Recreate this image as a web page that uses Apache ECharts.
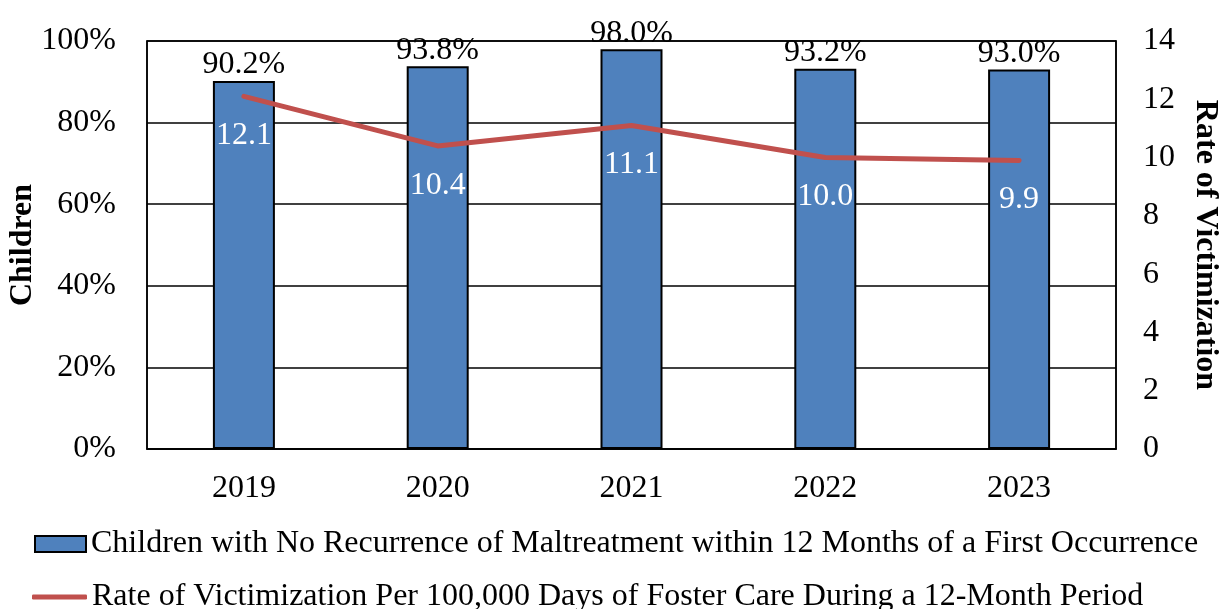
<!DOCTYPE html>
<html>
<head>
<meta charset="utf-8">
<script src="https://cdn.jsdelivr.net/npm/echarts@6/dist/echarts.min.js"></script>
<style>
  html, body { margin: 0; padding: 0; background: #fff; }
  #chart { width: 1220px; height: 609px; }
</style>
</head>
<body>
<div id="chart"></div>
<script>
// Report years on the category axis
const years = ['2019', '2020', '2021', '2022', '2023'];
// Share of children with no recurrence of maltreatment (percent)
const noRecurrencePct = [90.2, 93.8, 98.0, 93.2, 93.0];
// Victimization rate per 100,000 days in foster care
const victimizationRate = [12.1, 10.4, 11.1, 10.0, 9.9];
// Left axis ticks (percent) and right axis ticks (rate)
const pctTicks = [0, 20, 40, 60, 80, 100];
const rateTicks = [0, 2, 4, 6, 8, 10, 12, 14];

const barName = 'Children with No Recurrence of Maltreatment within 12 Months of a First Occurrence';
const lineName = 'Rate of Victimization Per 100,000 Days of Foster Care During a 12-Month Period';

const FONT = "'Liberation Serif', 'Times New Roman', serif";
const FS = 32;
const RED = '#C0504D';
const chart = echarts.init(document.getElementById('chart'), null, { renderer: 'canvas' });

chart.setOption({
  animation: false,
  backgroundColor: '#ffffff',
  textStyle: { fontFamily: FONT, color: '#000' },
  grid: {
    left: 147, right: 104, top: 41, bottom: 160,
    show: true, borderColor: '#000', borderWidth: 1.5,
    containLabel: false, outerBoundsMode: 'none'
  },
  legend: [
    {
      data: [{ name: barName, icon: 'rect' }], left: 34, top: 528, orient: 'horizontal',
      padding: 0, itemWidth: 51, itemHeight: 16, itemGap: 0,
      textStyle: { fontFamily: FONT, fontSize: FS, color: '#000', padding: [0, 0, 0, 0] }
    },
    {
      data: [{ name: lineName, icon: 'roundRect', itemStyle: { color: RED, opacity: 1, borderWidth: 0 } }],
      left: 32, top: 581, orient: 'horizontal',
      padding: 0, itemWidth: 55, itemHeight: 5, itemGap: 0,
      textStyle: { fontFamily: FONT, fontSize: FS, color: '#000', padding: [0, 0, 0, 0] }
    }
  ],
  xAxis: {
    type: 'category',
    data: years,
    axisLine: { show: true, lineStyle: { color: '#000', width: 1.5 } },
    axisTick: { show: false },
    axisLabel: { fontFamily: FONT, fontSize: FS, color: '#000', margin: 24 }
  },
  yAxis: [
    {
      type: 'value', min: pctTicks[0], max: pctTicks[pctTicks.length - 1], interval: 20,
      name: 'Children', nameLocation: 'middle', nameRotate: 90, nameGap: 108,
      nameMoveOverlap: false,
      nameTextStyle: { fontFamily: FONT, fontSize: FS, fontWeight: 'bold', color: '#000' },
      axisLine: { show: true, lineStyle: { color: '#000', width: 1.5 } },
      axisTick: { show: false },
      splitLine: { show: true, lineStyle: { color: '#000', width: 1.5 } },
      axisLabel: { fontFamily: FONT, fontSize: FS, color: '#000', margin: 31, formatter: '{value}%' }
    },
    {
      type: 'value', min: rateTicks[0], max: rateTicks[rateTicks.length - 1], interval: 2,
      name: 'Rate of Victimization', nameLocation: 'middle', nameRotate: -90, nameGap: 73,
      nameTextStyle: { fontFamily: FONT, fontSize: FS, fontWeight: 'bold', color: '#000' },
      axisLine: { show: true, lineStyle: { color: '#000', width: 1.5 } },
      axisTick: { show: false },
      splitLine: { show: false },
      axisLabel: { fontFamily: FONT, fontSize: FS, color: '#000', margin: 27 }
    }
  ],
  series: [
    {
      name: barName,
      type: 'bar',
      yAxisIndex: 0,
      data: noRecurrencePct,
      barWidth: 62,
      itemStyle: { color: '#4F81BD', borderColor: '#000', borderWidth: 2 },
      label: {
        show: true, position: 'top', distance: 0,
        fontFamily: FONT, fontSize: FS, color: '#000',
        formatter: p => p.value.toFixed(1) + '%'
      },
      z: 2
    },
    {
      name: lineName,
      type: 'line',
      yAxisIndex: 1,
      data: victimizationRate,
      symbol: 'circle',
      symbolSize: 0.5,
      showSymbol: true,
      lineStyle: { color: RED, width: 5, cap: 'round', join: 'round' },
      itemStyle: { color: RED },
      label: {
        show: true, position: 'bottom', distance: 23,
        fontFamily: FONT, fontSize: FS, color: '#ffffff',
        formatter: p => p.value.toFixed(1)
      },
      labelLayout: { hideOverlap: false },
      z: 3
    }
  ]
});
</script>
</body>
</html>
